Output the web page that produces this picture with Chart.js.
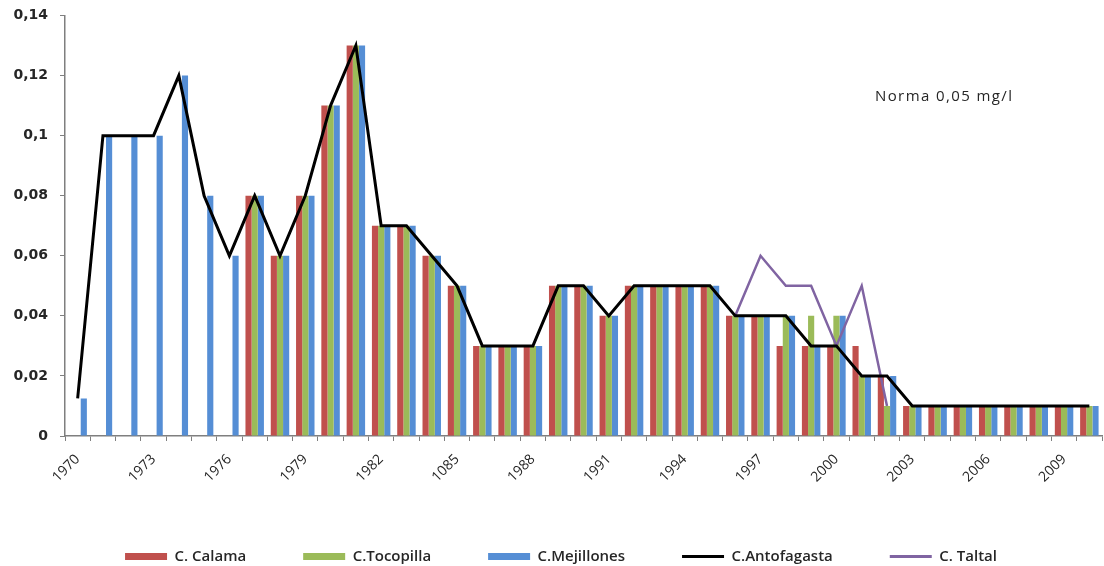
<!DOCTYPE html>
<html>
<head>
<meta charset="utf-8">
<script src="https://cdn.jsdelivr.net/npm/chart.js@4/dist/chart.umd.min.js"></script>
<style>
  html, body { margin: 0; padding: 0; background: #fff; }
  #wrap { width: 1104px; height: 566px; }
</style>
</head>
<body>
<div id="wrap"><canvas id="chart" width="1104" height="566"></canvas></div>
<script>
// Categories (one per year) and the labels printed under every third year
const years = [
    '1970', '1971', '1972', '1973', '1974', '1975', '1976', '1977', '1978', '1979',
    '1980', '1981', '1982', '1983', '1984', '1985', '1986', '1987', '1988', '1989',
    '1990', '1991', '1992', '1993', '1994', '1995', '1996', '1997', '1998', '1999',
    '2000', '2001', '2002', '2003', '2004', '2005', '2006', '2007', '2008', '2009', '2010'
];
const tickLabels = ['1970', '1973', '1976', '1979', '1982', '1085', '1988',
    '1991', '1994', '1997', '2000', '2003', '2006', '2009'];
const yTicks = [0, 0.02, 0.04, 0.06, 0.08, 0.1, 0.12, 0.14];

// Series values (mg/l)
const calama = [
    null, null, null, null, null, null, null, 0.08, 0.06, 0.08,
    0.11, 0.13, 0.07, 0.07, 0.06, 0.05, 0.03, 0.03, 0.03, 0.05,
    0.05, 0.04, 0.05, 0.05, 0.05, 0.05, 0.04, 0.04, 0.03, 0.03,
    0.03, 0.03, 0.02, 0.01, 0.01, 0.01, 0.01, 0.01, 0.01, 0.01, 0.01
];
const tocopilla = [
    null, null, null, null, null, null, null, 0.08, 0.06, 0.08,
    0.11, 0.13, 0.07, 0.07, 0.06, 0.05, 0.03, 0.03, 0.03, 0.05,
    0.05, 0.04, 0.05, 0.05, 0.05, 0.05, 0.04, 0.04, 0.04, 0.04,
    0.04, 0.02, 0.01, 0.01, 0.01, 0.01, 0.01, 0.01, 0.01, 0.01, 0.01
];
const mejillones = [
    0.0125, 0.1, 0.1, 0.1, 0.12, 0.08, 0.06, 0.08, 0.06, 0.08,
    0.11, 0.13, 0.07, 0.07, 0.06, 0.05, 0.03, 0.03, 0.03, 0.05,
    0.05, 0.04, 0.05, 0.05, 0.05, 0.05, 0.04, 0.04, 0.04, 0.03,
    0.04, 0.02, 0.02, 0.01, 0.01, 0.01, 0.01, 0.01, 0.01, 0.01, 0.01
];
const antofagasta = [
    0.0125, 0.1, 0.1, 0.1, 0.12, 0.08, 0.06, 0.08, 0.06, 0.08,
    0.11, 0.13, 0.07, 0.07, 0.06, 0.05, 0.03, 0.03, 0.03, 0.05,
    0.05, 0.04, 0.05, 0.05, 0.05, 0.05, 0.04, 0.04, 0.04, 0.03,
    0.03, 0.02, 0.02, 0.01, 0.01, 0.01, 0.01, 0.01, 0.01, 0.01, 0.01
];
const taltal = [
    null, null, null, null, null, null, null, null, null, null,
    null, null, null, null, null, null, null, null, null, null,
    null, null, null, null, null, null, 0.04, 0.06, 0.05, 0.05,
    0.03, 0.05, 0.01, null, null, null, null, null, null, null, null
];

const axisColor = '#7f7f7f';
const textColor = '#262626';

function formatComma(v) {
    return String(Math.round(v * 100) / 100).replace('.', ',');
}

// Text note inside the plot, and a small nudge of the legend to the right
const notePlugin = {
    id: 'note',
    afterLayout(chart) {
        chart.legend.left += 10;
        chart.legend.right += 10;
    },
    afterDraw(chart) {
        const ctx = chart.ctx;
        ctx.save();
        ctx.font = '15px "Open Sans"';
        ctx.letterSpacing = '1.4px';
        ctx.fillStyle = textColor;
        ctx.textAlign = 'left';
        ctx.textBaseline = 'middle';
        ctx.fillText('Norma 0,05 mg/l', 875, 97);
        ctx.restore();
    }
};

const barCommon = { type: 'bar', order: 1, borderWidth: 0, categoryPercentage: 0.73, barPercentage: 1.0 };
const lineCommon = { type: 'line', order: 0, pointRadius: 0, pointHoverRadius: 0, tension: 0, fill: false };

new Chart(document.getElementById('chart'), {
    data: {
        labels: years,
        datasets: [
            Object.assign({ label: 'C. Calama', data: calama, backgroundColor: '#C0504D' }, barCommon),
            Object.assign({ label: 'C.Tocopilla', data: tocopilla, backgroundColor: '#9BBB59' }, barCommon),
            Object.assign({ label: 'C.Mejillones', data: mejillones, backgroundColor: '#558ED5' }, barCommon),
            Object.assign({ label: 'C.Antofagasta', data: antofagasta, borderColor: '#000000', backgroundColor: '#000000', borderWidth: 3 }, lineCommon),
            Object.assign({ label: 'C. Taltal', data: taltal, borderColor: '#8064A2', backgroundColor: '#8064A2', borderWidth: 2.5, order: -1 }, lineCommon)
        ]
    },
    options: {
        responsive: false,
        animation: false,
        devicePixelRatio: 1,
        layout: { padding: { top: 0, right: 2, left: 0, bottom: -8 } },
        plugins: {
            tooltip: { enabled: false },
            legend: {
                position: 'bottom',
                labels: {
                    usePointStyle: true,
                    pointStyleWidth: 42,
                    boxWidth: 42,
                    boxHeight: 7,
                    padding: 57,
                    color: textColor,
                    font: { family: '"Open Sans"', size: 15, weight: '600' },
                    sort: (a, b) => a.datasetIndex - b.datasetIndex,
                    generateLabels: function(chart) {
                        const items = Chart.defaults.plugins.legend.labels.generateLabels(chart);
                        items.forEach(item => {
                            const ds = chart.data.datasets[item.datasetIndex];
                            item.pointStyle = ds.type === 'line' ? 'line' : 'rect';
                            item.lineWidth = ds.type === 'line' ? 3 : 0;
                        });
                        return items;
                    }
                }
            }
        },
        scales: {
            x: {
                offset: true,
                afterFit: function(scale) {
                    scale.height = 56;
                    scale.paddingRight = 0;
                },
                border: { display: true, color: axisColor, width: 1.5 },
                grid: { offset: true, drawOnChartArea: false, drawTicks: true, tickLength: 5, color: axisColor },
                ticks: {
                    autoSkip: false,
                    maxRotation: 45,
                    minRotation: 45,
                    padding: 10,
                    color: textColor,
                    font: { family: '"Open Sans"', size: 14 },
                    callback: function(value, index) {
                        return index % 3 === 0 ? tickLabels[index / 3] : '';
                    }
                }
            },
            y: {
                min: 0,
                max: 0.14,
                afterFit: function(scale) { scale.width = 65; },
                afterBuildTicks: function(scale) { scale.ticks = yTicks.map(v => ({ value: v })); },
                border: { display: true, color: axisColor, width: 1.5 },
                grid: { drawOnChartArea: false, drawTicks: true, tickLength: 5, color: axisColor },
                ticks: {
                    padding: 12,
                    color: textColor,
                    font: { family: '"DejaVu Sans"', size: 14, weight: 'bold', lineHeight: 0.5 },
                    callback: function(value) { return formatComma(value); }
                }
            }
        }
    },
    plugins: [notePlugin]
});
</script>
</body>
</html>
